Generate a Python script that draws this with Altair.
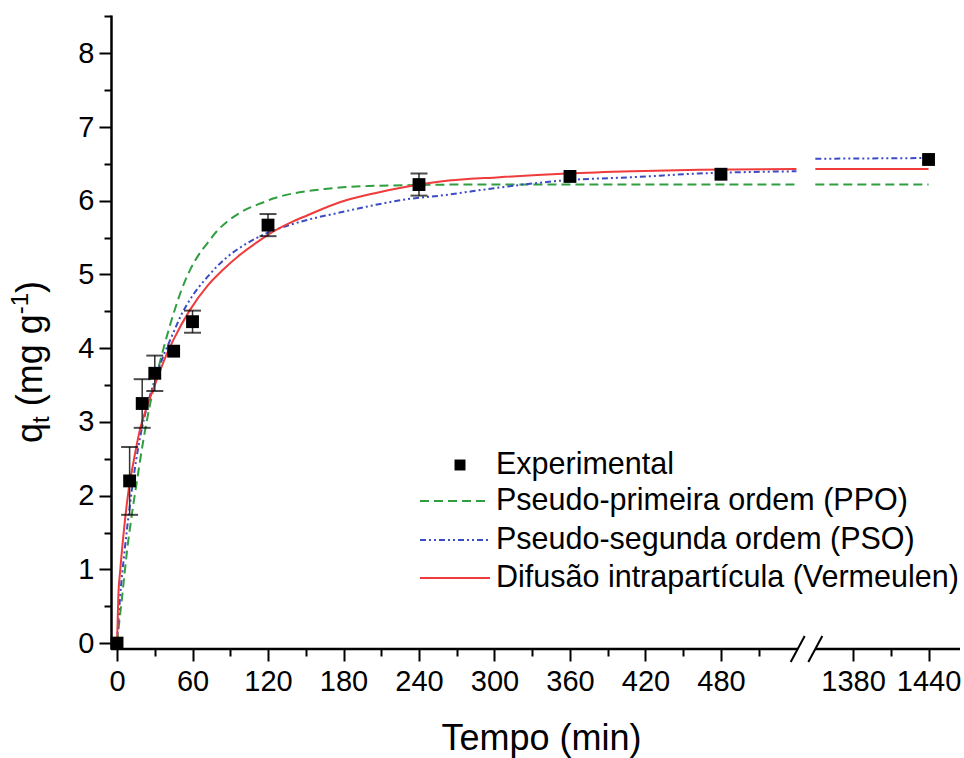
import altair as alt
import pandas as pd

# ---------------- data ----------------
t_exp = [0, 10, 20, 30, 45, 60, 120, 240, 360, 480, 1440]
q_exp = [0.00, 2.20, 3.25, 3.66, 3.96, 4.36, 5.67, 6.22, 6.33, 6.36, 6.56]
err_exp = [0.00, 0.46, 0.33, 0.24, 0.00, 0.15, 0.15, 0.15, 0.00, 0.00, 0.00]

ppo_t = [0, 2, 4, 6, 8, 12, 16, 21, 26, 30, 37, 44, 51, 58, 65, 72, 80, 87, 96, 106,
         115, 124, 140, 151, 165, 177, 200, 230, 270, 330, 400, 470, 540]
ppo_q = [0, 0.32, 0.62, 0.95, 1.26, 1.77, 2.22, 2.76, 3.22, 3.53, 4.00, 4.42, 4.78, 5.06,
         5.27, 5.43, 5.60, 5.71, 5.82, 5.91, 5.97, 6.03, 6.10, 6.13, 6.16, 6.18, 6.20,
         6.21, 6.22, 6.22, 6.22, 6.22, 6.22]
ppo_t_late = [1350, 1440]
ppo_q_late = [6.22, 6.22]

pso_t = [0, 2.4, 6, 10, 14, 19, 24, 30, 37, 44, 51, 58, 72, 87, 103, 119, 137, 151, 177,
         204, 230, 257, 304, 358, 410, 463, 540]
pso_q = [0, 0.62, 1.25, 1.84, 2.35, 2.85, 3.22, 3.57, 3.90, 4.18, 4.45, 4.66, 4.97, 5.23,
         5.42, 5.56, 5.67, 5.74, 5.84, 5.94, 6.02, 6.07, 6.18, 6.28, 6.32, 6.37, 6.40]
pso_t_late = [1350, 1440]
pso_q_late = [6.57, 6.58]

ver_t = [0, 1, 2.5, 5, 9, 13, 18, 24, 30, 38, 45, 58, 72, 84, 98, 114, 124, 140, 151, 177,
         204, 230, 257, 304, 358, 410, 463, 540]
ver_q = [0, 0.62, 0.98, 1.45, 2.05, 2.45, 2.88, 3.22, 3.50, 3.86, 4.12, 4.52, 4.85, 5.06,
         5.27, 5.47, 5.58, 5.72, 5.80, 5.98, 6.10, 6.19, 6.26, 6.32, 6.37, 6.40, 6.42, 6.43]
ver_t_late = [1350, 1440]
ver_q_late = [6.43, 6.43]

x_tick_values = [0, 30, 60, 90, 120, 150, 180, 210, 240, 270, 300, 330, 360, 390, 420,
                 450, 480, 510, 1380, 1410, 1440]
y_tick_values = [0, 0.5, 1, 1.5, 2, 2.5, 3, 3.5, 4, 4.5, 5, 5.5, 6, 6.5, 7, 7.5, 8, 8.5]

legend_labels = ["Experimental", "Pseudo-primeira ordem (PPO)",
                 "Pseudo-segunda ordem (PSO)", "Difusão intrapartícula (Vermeulen)"]

# ---------------- broken-axis helpers ----------------
SHIFT = 795          # minutes removed by the axis break
BREAK = 1000
xp_expr = f"datum.t > {BREAK} ? datum.t - {SHIFT} : datum.t"
real_expr = f"(datum.value > 545 ? datum.value + {SHIFT} : datum.value)"

FONT = "Liberation Sans"
W, H = 849, 634

x_scale = alt.Scale(domain=[-4.8, 670], nice=False, zero=False)
y_scale = alt.Scale(domain=[-0.08, 8.52], nice=False, zero=False)

x_axis = alt.Axis(
    values=[v if v < BREAK else v - SHIFT for v in x_tick_values],
    labelExpr=f"{real_expr} % 60 === 0 ? format({real_expr}, 'd') : ''",
    tickSize={"condition": {"test": f"{real_expr} % 60 === 0", "value": 12}, "value": 7},
    domain=False, grid=False, tickWidth=2, tickColor="black",
    labelFont=FONT, labelFontSize=29, labelColor="black", labelPadding=6,
    labelFlush=False, labelOverlap=False,
    title="Tempo (min)", titleFont=FONT, titleFontSize=36, titleFontWeight="normal",
    titleColor="black", titleX=430, titleY=100, titleBaseline="alphabetic",
    titleAlign="center", titleAnchor="start",
)
y_axis = alt.Axis(
    values=y_tick_values,
    labelExpr="datum.value % 1 === 0 ? format(datum.value, 'd') : ''",
    tickSize={"condition": {"test": "datum.value % 1 === 0", "value": 12}, "value": 7},
    domain=True, domainWidth=2.5, domainColor="black", grid=False,
    tickWidth=2, tickColor="black",
    labelFont=FONT, labelFontSize=29, labelColor="black", labelPadding=5,
    labelFlush=False, labelOverlap=False, title=None,
)


def X():
    return alt.X("xp:Q", scale=x_scale, axis=x_axis)


def Y(field):
    return alt.Y(f"{field}:Q", scale=y_scale, axis=y_axis)


def curve_df(ts, qs, tl, ql):
    return pd.DataFrame({"t": ts + tl, "q": qs + ql,
                         "seg": ["a"] * len(ts) + ["b"] * len(tl)})


GREEN, BLUE, RED = "#2f9e3f", "#3b4bc4", "#ef3b3b"
DASH_PPO = [9, 5]
DASH_PSO = [6, 3, 2, 3, 2, 3]

layers = []
for (ts, qs, tl, ql), color, dash in [
    ((ppo_t, ppo_q, ppo_t_late, ppo_q_late), GREEN, DASH_PPO),
    ((pso_t, pso_q, pso_t_late, pso_q_late), BLUE, DASH_PSO),
    ((ver_t, ver_q, ver_t_late, ver_q_late), RED, None),
]:
    kw = dict(color=color, strokeWidth=2, interpolate="monotone")
    if dash:
        kw["strokeDash"] = dash
    layers.append(
        alt.Chart(curve_df(ts, qs, tl, ql))
        .transform_calculate(xp=xp_expr)
        .mark_line(**kw)
        .encode(x=X(), y=Y("q"), detail="seg:N")
    )

exp = (
    alt.Chart(pd.DataFrame({"t": t_exp, "q": q_exp, "err": err_exp}))
    .transform_calculate(xp=xp_expr, lo="datum.q - datum.err", hi="datum.q + datum.err")
)
bars = exp.transform_filter("datum.err > 0")
layers.append(bars.mark_rule(color="#333333", strokeWidth=1.5)
              .encode(x=X(), y=Y("lo"), y2="hi:Q"))
layers.append(bars.mark_tick(orient="horizontal", size=17, thickness=2, color="black")
              .encode(x=X(), y=Y("lo")))
layers.append(bars.mark_tick(orient="horizontal", size=17, thickness=2, color="black")
              .encode(x=X(), y=Y("hi")))
layers.append(exp.mark_square(size=165, color="black", opacity=1, filled=True)
              .encode(x=X(), y=Y("q")))

one = pd.DataFrame({"k": [0]})

# bottom axis line in two pieces with break marks
px_left_end = (541 + 4.8) * W / (670 + 4.8)
px_right_start = (1350 - SHIFT + 4.8) * W / (670 + 4.8)
layers.append(alt.Chart(one).mark_rule(color="black", strokeWidth=2.5)
              .encode(x=alt.value(0), x2=alt.value(px_left_end), y=alt.value(H)))
layers.append(alt.Chart(one).mark_rule(color="black", strokeWidth=2.5)
              .encode(x=alt.value(px_right_start), x2=alt.value(W), y=alt.value(H)))
for cx in (px_left_end, px_right_start):
    layers.append(alt.Chart(one).mark_rule(color="black", strokeWidth=2)
                  .encode(x=alt.value(cx - 7), x2=alt.value(cx + 7),
                          y=alt.value(H + 13), y2=alt.value(H - 13)))

# legend
leg_x_line0, leg_x_line1, leg_x_text = 309, 379, 385
leg_rows = [450, 486, 525, 563]
layers.append(alt.Chart(one).mark_square(size=120, color="black", opacity=1, filled=True)
              .encode(x=alt.value(349), y=alt.value(leg_rows[0])))
for row, color, dash in [(leg_rows[1], GREEN, DASH_PPO), (leg_rows[2], BLUE, DASH_PSO),
                         (leg_rows[3], RED, None)]:
    kw = dict(color=color, strokeWidth=2)
    if dash:
        kw["strokeDash"] = dash
    layers.append(alt.Chart(one).mark_rule(**kw)
                  .encode(x=alt.value(leg_x_line0), x2=alt.value(leg_x_line1), y=alt.value(row)))
for row, label in zip(leg_rows, legend_labels):
    layers.append(alt.Chart(one).mark_text(text=label, align="left", baseline="middle",
                                           font=FONT, fontSize=30.5, color="black")
                  .encode(x=alt.value(leg_x_text), y=alt.value(row)))

# y-axis title with subscript / superscript
title_pieces = [("q", 36, 0, 0), ("t", 24, 20, 7), ("(mg g", 36, 36.7, 0),
                ("-1", 24, 128.7, -14), (")", 36, 150, 0)]
for txt, fs, dx, dy in title_pieces:
    layers.append(alt.Chart(one).mark_text(text=txt, angle=270, align="left",
                                           baseline="alphabetic", font=FONT, fontSize=fs,
                                           color="black", dx=dx, dy=dy)
                  .encode(x=alt.value(-69), y=alt.value(428)))

chart = (
    alt.layer(*layers)
    .properties(width=W, height=H, background="white",
                padding={"left": 111, "top": 15, "right": 4, "bottom": 109},
                autosize=alt.AutoSizeParams(type="none"))
    .configure_view(stroke=None)
)

chart.save("out.html", embed_options={"renderer": "svg", "actions": False})
